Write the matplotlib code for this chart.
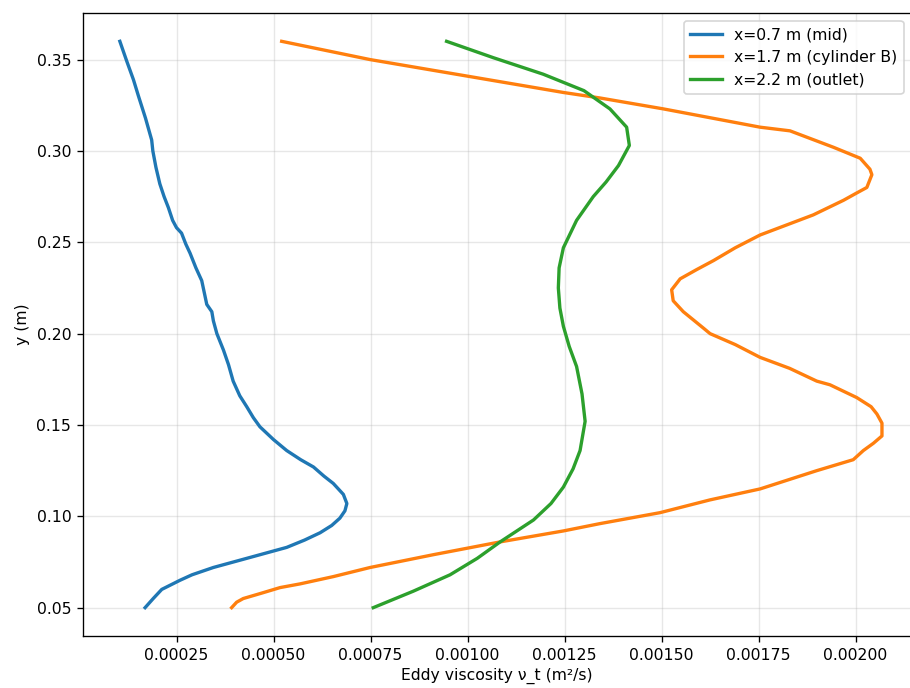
import matplotlib
matplotlib.use("Agg")
import matplotlib.pyplot as plt

plt.rcParams["font.size"] = 9.4

# eddy viscosity profiles nu_t(y) at three stations along the channel
y_mid = [0.360, 0.349, 0.339, 0.330, 0.318, 0.306, 0.300, 0.291, 0.282, 0.275,
         0.269, 0.262, 0.258, 0.255, 0.249, 0.244, 0.236, 0.229, 0.222, 0.216,
         0.212, 0.207, 0.200, 0.191, 0.183, 0.174, 0.166, 0.160, 0.154, 0.149,
         0.142, 0.136, 0.131, 0.127, 0.122, 0.118, 0.112, 0.107, 0.103, 0.099,
         0.095, 0.091, 0.087, 0.083, 0.077, 0.072, 0.068, 0.065, 0.060, 0.055, 0.050]
nut_mid = [0.000104, 0.000122, 0.000139, 0.000152, 0.000170, 0.000186, 0.000189,
           0.000197, 0.000207, 0.000218, 0.000229, 0.000240, 0.000250, 0.000263,
           0.000274, 0.000285, 0.000300, 0.000315, 0.000322, 0.000328, 0.000341,
           0.000345, 0.000354, 0.000371, 0.000384, 0.000396, 0.000413, 0.000431,
           0.000448, 0.000465, 0.000500, 0.000534, 0.000570, 0.000603, 0.000630,
           0.000654, 0.000680, 0.000689, 0.000684, 0.000671, 0.000650, 0.000620,
           0.000580, 0.000534, 0.000431, 0.000345, 0.000290, 0.000259, 0.000212,
           0.000190, 0.000169]

y_cyl = [0.360, 0.350, 0.341, 0.332, 0.329, 0.323, 0.313, 0.311, 0.302, 0.296,
         0.290, 0.287, 0.280, 0.277, 0.273, 0.265, 0.254, 0.247, 0.240, 0.235,
         0.230, 0.224, 0.218, 0.212, 0.203, 0.200, 0.194, 0.187, 0.181, 0.174,
         0.172, 0.165, 0.160, 0.156, 0.151, 0.144, 0.140, 0.136, 0.131, 0.125,
         0.115, 0.109, 0.102, 0.096, 0.092, 0.086, 0.079, 0.072, 0.067, 0.063,
         0.061, 0.058, 0.055, 0.053, 0.050]
nut_cyl = [0.000521, 0.000749, 0.000998, 0.001247, 0.001341, 0.001505, 0.001754,
           0.001831, 0.001943, 0.002012, 0.002037, 0.002042, 0.002029, 0.002003,
           0.001969, 0.001891, 0.001754, 0.001690, 0.001634, 0.001590, 0.001548,
           0.001526, 0.001530, 0.001556, 0.001608, 0.001625, 0.001690, 0.001754,
           0.001830, 0.001900, 0.001934, 0.002003, 0.002040, 0.002055, 0.002068,
           0.002068, 0.002046, 0.002020, 0.001994, 0.001900, 0.001754, 0.001625,
           0.001496, 0.001341, 0.001247, 0.001084, 0.000912, 0.000749, 0.000654,
           0.000568, 0.000517, 0.000470, 0.000422, 0.000405, 0.000392]

y_out = [0.360, 0.351, 0.342, 0.333, 0.323, 0.313, 0.303, 0.292, 0.283, 0.275,
         0.262, 0.247, 0.236, 0.225, 0.214, 0.204, 0.193, 0.182, 0.167, 0.152,
         0.136, 0.126, 0.116, 0.107, 0.098, 0.086, 0.077, 0.068, 0.059, 0.050]
nut_out = [0.000946, 0.001067, 0.001195, 0.001300, 0.001367, 0.001410, 0.001417,
           0.001389, 0.001357, 0.001324, 0.001281, 0.001247, 0.001236, 0.001234,
           0.001238, 0.001247, 0.001262, 0.001281, 0.001295, 0.001303, 0.001290,
           0.001272, 0.001247, 0.001215, 0.001170, 0.001084, 0.001025, 0.000955,
           0.000860, 0.000757]

labels = ["x=0.7 m (mid)", "x=1.7 m (cylinder B)", "x=2.2 m (outlet)"]

fig = plt.figure(figsize=(910 / 120, 688 / 120), dpi=120)
ax = fig.add_axes([0.0912, 0.0756, 0.9104, 0.9055])

ax.plot(nut_mid, y_mid, lw=2, label=labels[0])
ax.plot(nut_cyl, y_cyl, lw=2, label=labels[1])
ax.plot(nut_out, y_out, lw=2, label=labels[2])

ax.set_xlim(0.000009, 0.002144)
ax.set_xlabel("Eddy viscosity ν_t (m²/s)", labelpad=3)
ax.set_ylabel("y (m)")
ax.grid(True, alpha=0.3)
ax.legend(loc="upper right")

fig.savefig("out.png", dpi=120)
